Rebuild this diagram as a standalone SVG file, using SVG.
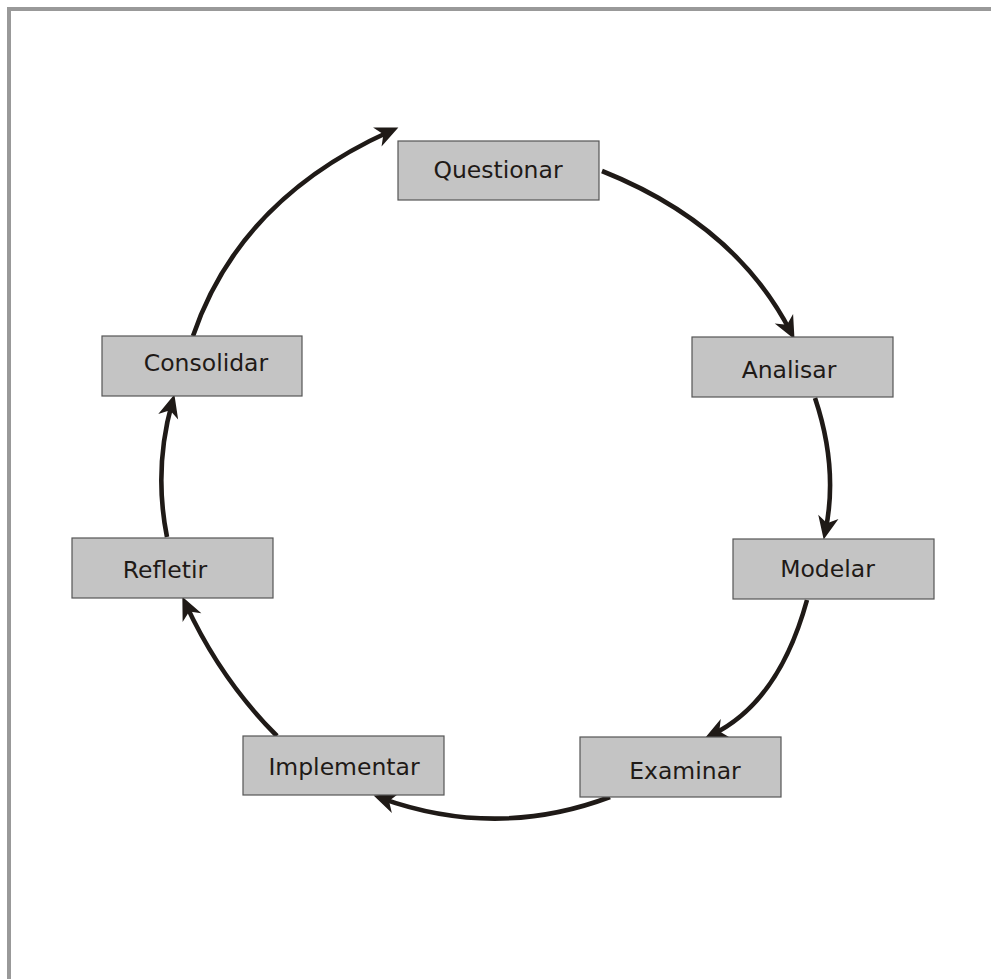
<svg xmlns="http://www.w3.org/2000/svg" width="991" height="979" viewBox="0 0 991 979">
  <style>
    .frame { fill: none; stroke: #999999; stroke-width: 4; }
    .box { fill: #c4c4c4; stroke: #555555; stroke-width: 1.2; }
    .label { font-family: "DejaVu Sans", Verdana, sans-serif; font-size: 23.5px; fill: #1f1a17; text-anchor: middle; }
    .arc { fill: none; stroke: #1f1a17; stroke-width: 4.6; marker-end: url(#head); }
  </style>
  <defs>
    <marker id="head" markerUnits="userSpaceOnUse" markerWidth="34" markerHeight="34" viewBox="-16 -12 28 24" refX="0" refY="0" orient="auto">
      <path d="M7,0 L-12,-8.5 L-6.5,0 L-12,8.5 Z" fill="#1f1a17"/>
    </marker>
  </defs>

  <rect width="991" height="979" fill="#ffffff"/>
  <!-- page frame (top and left edges only) -->
  <path class="frame" d="M9,979 V9 H991"/>

  <!-- cycle connectors -->
  <g id="connectors">
    <path class="arc" d="M193,336 Q239.5,199 390.6,131"/>
    <path class="arc" d="M602,171 Q735,224 790.6,331.8"/>
    <path class="arc" d="M815,398 Q838.5,468 825.4,531.1"/>
    <path class="arc" d="M807,600 Q779,702 712.2,734.7"/>
    <path class="arc" d="M610,797 Q497,839.5 381.6,798.3"/>
    <path class="arc" d="M277,736 Q220.5,679.5 185.9,604.4"/>
    <path class="arc" d="M167,537 Q153.5,469.5 172.1,402.7"/>
  </g>

  <g id="questionar">
    <rect class="box" x="398" y="141" width="201" height="59"/>
    <text class="label" x="498" y="177.5">Questionar</text>
  </g>
  <g id="analisar">
    <rect class="box" x="692" y="337" width="201" height="60"/>
    <text class="label" x="789" y="377.5">Analisar</text>
  </g>
  <g id="modelar">
    <rect class="box" x="733" y="539" width="201" height="60"/>
    <text class="label" x="827.5" y="576.5">Modelar</text>
  </g>
  <g id="examinar">
    <rect class="box" x="580" y="737" width="201" height="60"/>
    <text class="label" x="685" y="778.5">Examinar</text>
  </g>
  <g id="implementar">
    <rect class="box" x="243" y="736" width="201" height="59"/>
    <text class="label" x="344" y="774.5">Implementar</text>
  </g>
  <g id="refletir">
    <rect class="box" x="72" y="538" width="201" height="60"/>
    <text class="label" x="165" y="578">Refletir</text>
  </g>
  <g id="consolidar">
    <rect class="box" x="102" y="336" width="200" height="60"/>
    <text class="label" x="206" y="370.5">Consolidar</text>
  </g>
</svg>
